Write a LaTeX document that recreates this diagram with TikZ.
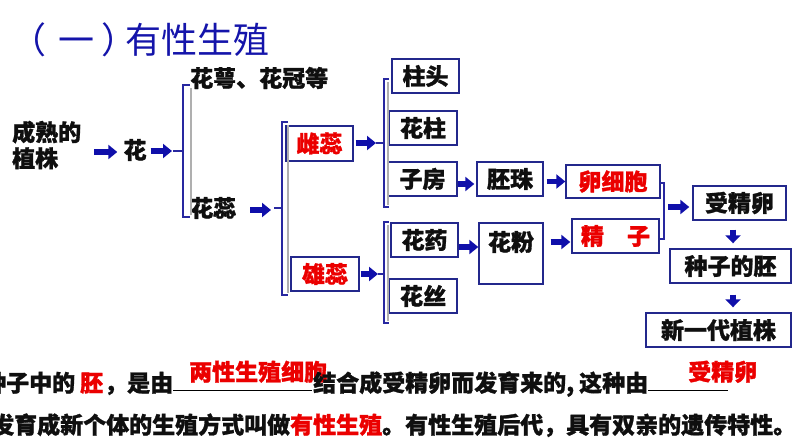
\documentclass[tikz,border=0pt]{standalone}
\usepackage{fontspec}
\setmainfont{Noto Sans CJK SC}[BoldFeatures={FakeBold=1.2}]
\usetikzlibrary{arrows.meta}
\definecolor{titleblue}{RGB}{20,20,170}
\definecolor{arrowblue}{RGB}{15,15,170}
\definecolor{boxblue}{RGB}{35,40,140}
\definecolor{brblue}{RGB}{40,40,160}
\definecolor{brgray}{RGB}{175,175,175}
\definecolor{hred}{RGB}{235,0,0}
\definecolor{txt}{RGB}{15,15,15}
\tikzset{
  body/.style={font=\fontsize{23}{26}\selectfont\bfseries, text=txt, inner sep=0pt},
  box/.style={body, draw=boxblue, line width=1.4pt, minimum height=34pt},
  redtxt/.style={text=hred},
  arr/.style={draw=arrowblue, line width=5.5pt, -{Triangle[length=9pt,width=14pt]}},
  darr/.style={draw=arrowblue, line width=6pt, -{Triangle[length=8pt,width=15pt]}},
  brk/.style={draw=brblue, line width=1.6pt},
  brkshade/.style={draw=brgray, line width=1.5pt},
  blank/.style={draw=black, line width=1pt},
  line1/.style={body, anchor=base west},
}
\begin{document}
\begin{tikzpicture}[x=1pt,y=-1pt]
\useasboundingbox (0,0) rectangle (794,447);
% title
\node[font=\fontsize{36}{40}\selectfont, text=titleblue, anchor=east, inner sep=0pt] (title) at (270,40) {（\kern12pt一\kern7pt）\kern-12pt有性生殖};
% left part
\node[body, anchor=west, align=left] (plant) at (12,145) {成熟的\\植株};
\node[body] (hua) at (135,150) {花};
\node[body, anchor=west] (huae) at (190,78) {花萼、花冠等};
\node[body, anchor=west] (huarui) at (190,208) {花蕊};
% boxes
\node[box, redtxt, minimum width=67pt, minimum height=35pt] (cirui) at (319.5,143.5) {雌蕊};
\node[box, redtxt, minimum width=68pt] (xiongrui) at (325,274) {雄蕊};
\node[box, minimum width=67pt] (zhutou) at (425.5,76) {柱头};
\node[box, minimum width=68pt] (huazhu) at (423,128) {花柱};
\node[box, minimum width=69pt] (zifang) at (422.5,179) {子房};
\node[box, minimum width=66pt] (peizhu) at (510,179) {胚珠};
\node[box, redtxt, minimum width=94pt, minimum height=33pt] (luan) at (613,181.5) {卵细胞};
\node[box, minimum width=67pt] (huayao) at (424.5,240) {花药};
\node[box, minimum width=68pt] (huasi) at (423,296) {花丝};
\node[box, minimum width=64pt, minimum height=61pt] (huafen) at (511,253.5) {};
\node[body] (huafentxt) at (511,242) {花粉};
\node[box, redtxt, minimum width=87pt] (jingzi) at (615.5,236) {精\hspace{1em}子};
\node[box, minimum width=93pt] (shou) at (739.5,203) {受精卵};
\node[box, minimum width=121pt] (pei) at (730.5,266) {种子的胚};
\node[box, minimum width=145pt] (xin) at (718.5,330) {新一代植株};
% brackets
\coordinate (b1) at (173,151);
\draw[brkshade] (191,88) -- (191,215);
\draw[brk] (190,85) -- (183,85) -- (183,217) -- (190,217);
\draw[brk] (b1) -- (183,151);
\coordinate (b2) at (274,208);
\draw[brkshade] (288,125) -- (288,293);
\draw[brk] (288,122) -- (282,122) -- (282,295) -- (288,295);
\draw[brk] (b2) -- (282,208);
\coordinate (b3) at (376,143);
\draw[brkshade] (388,82) -- (388,205);
\draw[brk] (389,79) -- (384,79) -- (384,207) -- (389,207);
\draw[brk] (b3) -- (384,143);
\coordinate (b4) at (378,274);
\draw[brkshade] (388,225) -- (388,321);
\draw[brk] (389,222) -- (384,222) -- (384,323) -- (389,323);
\draw[brk] (b4) -- (384,274);
\coordinate (b5) at (664,207);
\draw[brk] (660,183) -- (664,183) -- (664,239) -- (660,239);
% arrows
\draw[arr, shorten <=13pt, shorten >=6pt] (plant.east |- 0,152) -- (hua.west |- 0,152);
\draw[arr, shorten <=4pt, shorten >=1pt] (hua.east |- b1) -- (b1);
\draw[arr, shorten <=14pt, shorten >=3pt] (huarui.east |- 0,210) -- (b2 |- 0,210);
\draw[arr, shorten <=2pt, shorten >=0pt] (cirui.east |- b3) -- (b3);
\draw[arr, shorten <=1pt, shorten >=0pt] (xiongrui.east |- b4) -- (b4);
\draw[arr, shorten >=2pt] ([yshift=-5pt]zifang.east) -- ([yshift=-5pt]zifang.east -| peizhu.west);
\draw[arr, shorten <=3pt] (peizhu.east |- luan) -- (luan.west);
\draw[arr] ([yshift=-7pt]huayao.east) -- ([yshift=-7pt]huayao.east -| huafen.west);
\draw[arr, shorten <=7pt, shorten >=1pt] (huafen.east |- huafentxt) -- (jingzi.west |- huafentxt);
\draw[arr, shorten <=4pt, shorten >=3pt] (b5) -- (shou.west |- b5);
\draw[darr, shorten <=9pt, shorten >=5pt] ([xshift=-6.5pt]shou.south) -- ([xshift=-6.5pt]shou.south |- pei.north);
\draw[darr, shorten <=11pt, shorten >=5pt] ([xshift=2.5pt]pei.south) -- ([xshift=2.5pt]pei.south |- xin.north);
% bottom text
\node[line1] (s1) at (-17,391.5) {种子中的};
\node[line1, redtxt] (s2) at (80,391.5) {胚};
\node[line1] (s3) at (104,391.5) {，是由};
\coordinate (u1a) at (173,390);
\coordinate (u1b) at (312,390);
\draw[blank] (u1a) -- (u1b);
\node[line1, redtxt] (a1) at (189,380.5) {两性生殖细胞};
\node[line1] (s4) at (313,391.5) {结合成受精卵而发育来的,};
\node[line1] (s5) at (579,391.5) {这种由};
\coordinate (u2a) at (648,390);
\coordinate (u2b) at (728,390);
\draw[blank] (u2a) -- (u2b);
\node[line1, redtxt] (a2) at (688,380.5) {受精卵};
\node[line1] (t1) at (-9,433.5) {发育成新个体的生殖方式叫做};
\node[line1, redtxt] (t2) at (290,433.5) {有性生殖};
\node[line1] (t3) at (382,433.5) {。有性生殖后代，具有双亲的遗传特性。};
\end{tikzpicture}
\end{document}
